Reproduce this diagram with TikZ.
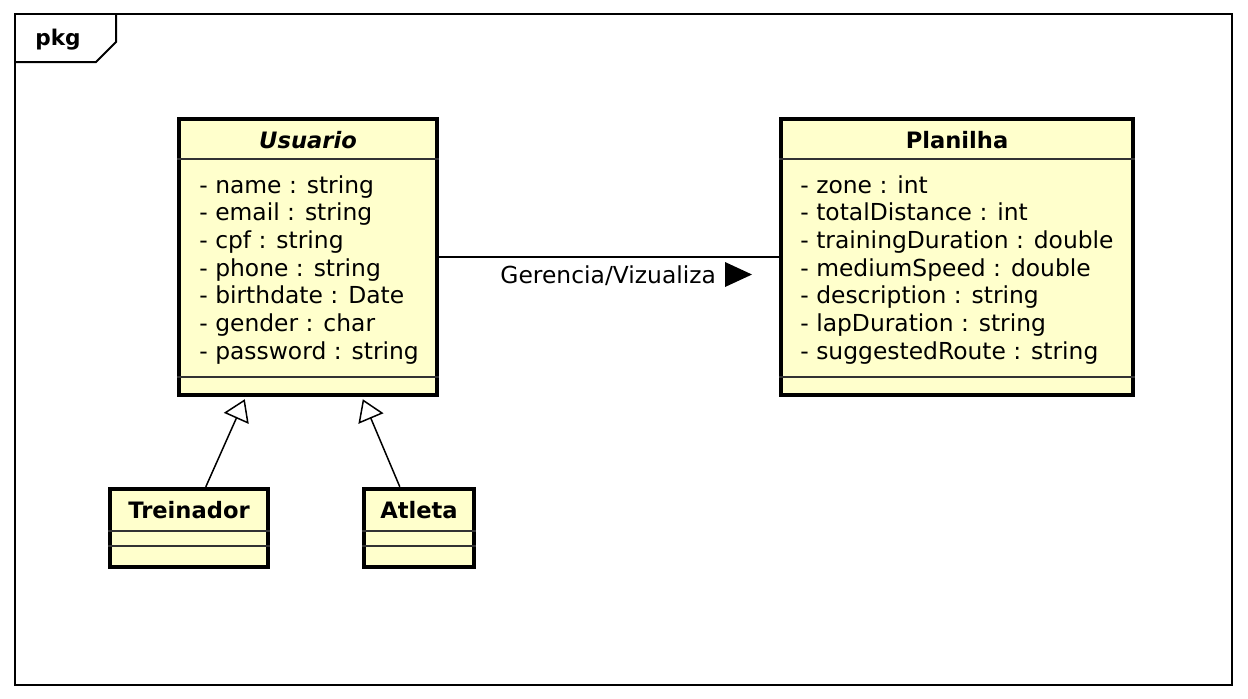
\documentclass[tikz,border=0pt]{standalone}
\usepackage{fontspec}
\setmainfont{DejaVu Sans}
\usetikzlibrary{arrows.meta,calc}
\definecolor{umlfill}{HTML}{FFFFCC}
\begin{document}
\begin{tikzpicture}[x=0.5pt,y=-0.5pt,
  umlbox/.style={draw, line width=2.2pt, fill=umlfill, inner sep=0pt},
  sepline/.style={line width=0.9pt, draw=black!80},
  attr/.style={anchor=base west, inner sep=0pt, font=\fontsize{11.7}{14}\selectfont},
  ctitle/.style={anchor=base, inner sep=0pt, font=\fontsize{11.3}{14}\selectfont\bfseries},
  gen/.style={line width=0.75pt, -{Triangle[open,length=10.5pt,width=13.5pt,fill=white]}},
  assoc/.style={line width=0.75pt}]
\useasboundingbox (0,0) rectangle (1248,698);
% frame
\draw[line width=1pt] (15,14) rectangle (1232,685);
\draw[line width=1pt] (116,14) -- (116,42) -- (96,62) -- (15,62);
\node[ctitle, font=\fontsize{10.8}{12}\selectfont\bfseries] (pkg) at (58,45) {pkg};
% boxes
\node[umlbox, minimum width=129pt, minimum height=138pt] (usu) at (308,257) {};
\node[umlbox, minimum width=176pt, minimum height=138pt] (pla) at (957,257) {};
\node[umlbox, minimum width=79pt, minimum height=39pt] (tre) at (189,528) {};
\node[umlbox, minimum width=55pt, minimum height=39pt] (atl) at (419,528) {};
% separators
\foreach \b in {usu, pla}{
  \draw[sepline] ($(\b.north west)+(0,42)$) -- ($(\b.north east)+(0,42)$);
  \draw[sepline] ($(\b.south west)+(0,-20)$) -- ($(\b.south east)+(0,-20)$);
}
\foreach \b in {tre, atl}{
  \draw[sepline] ($(\b.north west)+(0,44)$) -- ($(\b.north east)+(0,44)$);
  \draw[sepline] ($(\b.north west)+(0,59)$) -- ($(\b.north east)+(0,59)$);
}
% titles
\node[ctitle, font=\fontsize{11.3}{14}\selectfont\bfseries\itshape] (usuT) at (308,148) {Usuario};
\node[ctitle] (plaT) at (957,148) {Planilha};
\node[ctitle] (treT) at (189,518) {Treinador};
\node[ctitle] (atlT) at (419,518) {Atleta};
% attributes
\node[attr] (u1) at (199,193) {- name : string};
\node[attr] (u2) at (199,220.7) {- email : string};
\node[attr] (u3) at (199,248.4) {- cpf : string};
\node[attr] (u4) at (199,276.1) {- phone : string};
\node[attr] (u5) at (199,303.8) {- birthdate : Date};
\node[attr] (u6) at (199,331.5) {- gender : char};
\node[attr] (u7) at (199,359.2) {- password : string};
\node[attr] (p1) at (800,193) {- zone : int};
\node[attr] (p2) at (800,220.7) {- totalDistance : int};
\node[attr] (p3) at (800,248.4) {- trainingDuration : double};
\node[attr] (p4) at (800,276.1) {- mediumSpeed : double};
\node[attr] (p5) at (800,303.8) {- description : string};
\node[attr] (p6) at (800,331.5) {- lapDuration : string};
\node[attr] (p7) at (800,359.2) {- suggestedRoute : string};
% association
\draw[assoc] (usu) -- (pla);
\node[attr] (lab) at (500,283) {Gerencia/Vizualiza};
\fill (725,262) -- (752,274.5) -- (725,287) -- cycle;
% generalizations
\draw[gen] ($(tre.north west)+(98,0)$) -- ($(usu.south west)+(68,2)$);
\draw[gen] ($(atl.north west)+(38,0)$) -- ($(usu.south west)+(186,2)$);
\end{tikzpicture}
\end{document}
